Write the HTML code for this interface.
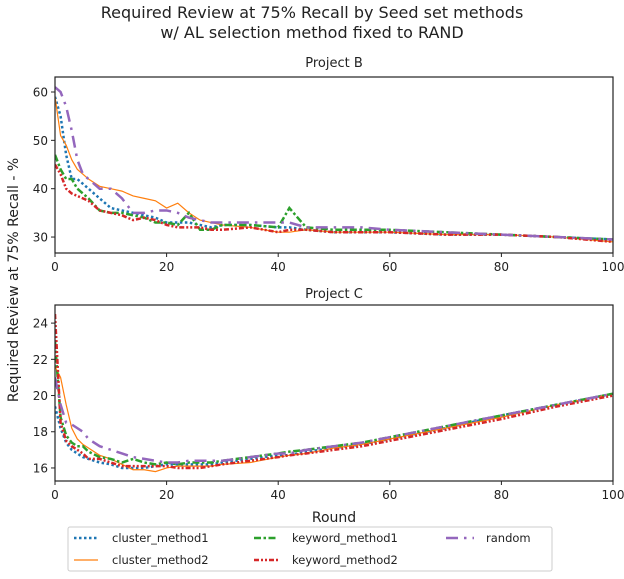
<!DOCTYPE html>
<html><head><meta charset="utf-8"><style>
body{margin:0;background:#fff;}
svg text{font-family:"DejaVu Sans","Liberation Sans",sans-serif;fill:#222;}
</style></head><body>
<svg width="624" height="574" viewBox="0 0 624 574">
<text x="312" y="18" text-anchor="middle" font-size="16">Required Review at 75% Recall by Seed set methods</text>
<text x="312" y="38" text-anchor="middle" font-size="16">w/ AL selection method fixed to RAND</text>
<text x="334" y="67" text-anchor="middle" font-size="13">Project B</text>
<text x="334" y="298" text-anchor="middle" font-size="13">Project C</text>
<text x="334" y="522" text-anchor="middle" font-size="14">Round</text>
<text transform="translate(18,280) rotate(-90)" text-anchor="middle" font-size="14">Required Review at 75% Recall - %</text>
<g id="plots"></g>
<g>
<rect x="68" y="527" width="484" height="44" fill="#fff" stroke="#ccc" rx="2"/>
<line x1="74" y1="538" x2="98" y2="538" stroke="#1f77b4" stroke-width="2.5" stroke-dasharray="2.5,2.5"/>
<text x="112" y="542" font-size="11.5">cluster_method1</text>
<line x1="74" y1="560" x2="98" y2="560" stroke="#ff7f0e" stroke-width="1.2"/>
<text x="112" y="564" font-size="11.5">cluster_method2</text>
<line x1="254" y1="538" x2="278" y2="538" stroke="#2ca02c" stroke-width="2.5" stroke-dasharray="7,2.5,2.5,2.5"/>
<text x="292" y="542" font-size="11.5">keyword_method1</text>
<line x1="254" y1="560" x2="278" y2="560" stroke="#d62728" stroke-width="2.5" stroke-dasharray="5,2,2,2,2,2"/>
<text x="292" y="564" font-size="11.5">keyword_method2</text>
<line x1="446" y1="538" x2="474" y2="538" stroke="#9467bd" stroke-width="2.5" stroke-dasharray="12,6,2.5,6"/>
<text x="486" y="542" font-size="11.5">random</text>
</g>
</svg>
<script>
const rounds=[0,1,2,3,4,5,6,8,10,12,14,16,18,20,22,24,26,28,30,35,40,42,45,50,55,60,70,80,90,100];
const bCluster1=[59,55,47,42,42,41,40,38,36,35.5,35,34.5,34,33,33,33,32.5,32,32.5,32.5,32,32,31.5,31,31,31,30.5,30.5,30,29.5];
const bCluster2=[59,51,49,46,44,43,42,40.5,40,39.5,38.5,38,37.5,36,37,35,33.5,33,32.5,32,31,31,31.5,31,31,31,30.5,30.5,30,29];
const bKeyword1=[47,44,42,42,40,39,38,35.5,35,35,34.5,34,33,33,32.5,35,31.5,31.5,32.5,32.5,32,36,32,31.5,31.5,31.5,31,30.5,30,29.5];
const bKeyword2=[45,43,40,39,38.5,38,37.5,35.5,35,34.5,33.5,34,33.5,32.5,32,32,32,31.5,31.5,32,31,31.5,31.5,31,31,31,30.5,30.5,30,29];
const bRandom=[61,60,57,52,46,43,42,40,40,38,35,35,35.5,35.5,35,34,33.5,33,33,33,33,33,32,32,32,31.5,31,30.5,30,29.5];
const cCluster1=[19.4,18.2,17.4,17,16.8,16.6,16.5,16.3,16.2,16,16,16,16.1,16.2,16.2,16.2,16.2,16.2,16.3,16.5,16.7,16.7,16.9,17.1,17.3,17.6,18.2,18.9,19.5,20.1];
const cCluster2=[21.6,21,19.5,18.2,17.6,17.3,17.1,16.7,16.5,16.2,15.9,15.9,15.8,16,16.1,16.1,16.1,16.1,16.2,16.3,16.6,16.7,16.8,17.1,17.3,17.6,18.2,18.8,19.5,20.1];
const cKeyword1=[23,18.8,17.8,17.4,17.2,17.2,16.9,16.6,16.5,16.3,16.5,16.3,16.2,16.3,16.2,16.3,16.3,16.3,16.4,16.6,16.8,16.9,17,17.2,17.4,17.7,18.3,18.9,19.5,20.1];
const cKeyword2=[24.5,18.5,17.5,17.2,17,16.8,16.5,16.5,16.3,16.1,16.1,16.1,16.1,16.1,16,16,16,16.1,16.2,16.4,16.6,16.7,16.8,17,17.2,17.5,18.1,18.7,19.4,20];
const cRandom=[21,19.5,18.5,18.4,18.2,18,17.6,17.2,17,16.8,16.6,16.5,16.4,16.3,16.3,16.4,16.4,16.4,16.4,16.6,16.8,16.8,17,17.2,17.4,17.7,18.3,18.9,19.5,20.1];
const bTicksY=[30,40,50,60];
const cTicksY=[16,18,20,22,24];
const xTicks=[0,20,40,60,80,100];
const styles={cluster1:["#1f77b4","2.5","2.5,2.5"],cluster2:["#ff7f0e","1.2",""],keyword1:["#2ca02c","2.5","7,2.5,2.5,2.5"],keyword2:["#d62728","2.5","5,2,2,2,2,2"],random:["#9467bd","2.5","12,6,2.5,6"]};
const NS="http://www.w3.org/2000/svg";
const root=document.getElementById('plots');
function mk(tag,attrs,parent){const e=document.createElementNS(NS,tag);for(const k in attrs)e.setAttribute(k,attrs[k]);parent.appendChild(e);return e;}
function panel(name,top,bottom,ymin,ymax,yticks,series){
  const L=55,R=613;
  const sx=v=>L+(v-0)/100*(R-L);
  const sy=v=>bottom-(v-ymin)/(ymax-ymin)*(bottom-top);
  const g=mk('g',{},root);
  
  
  const clipId=name+'-clip';
  const cp=mk('clipPath',{id:clipId},g);mk('rect',{x:L,y:top,width:R-L,height:bottom-top},cp);
  const lines=mk('g',{'clip-path':'url(#'+clipId+')'},g);
  for(const [key,vals] of series){
    const st=styles[key];
    const p=mk('polyline',{points:rounds.map((r,i)=>sx(r)+','+sy(vals[i])).join(' '),fill:'none',stroke:st[0],'stroke-width':st[1],'stroke-dasharray':st[2]},lines);
    
    
  }
  const box=mk('rect',{x:L,y:top,width:R-L,height:bottom-top,fill:'none',stroke:'#222','stroke-width':1.2},g);
  
  
  for(const t of yticks){
    mk('line',{x1:L-4,x2:L,y1:sy(t),y2:sy(t),stroke:'#222'},g);
    const tx=mk('text',{x:L-7,y:sy(t)+4.5,'text-anchor':'end','font-size':12},g);tx.textContent=t;
    
    
  }
  for(const t of xTicks){
    mk('line',{x1:sx(t),x2:sx(t),y1:bottom,y2:bottom+4,stroke:'#222'},g);
    const tx=mk('text',{x:sx(t),y:bottom+18,'text-anchor':'middle','font-size':12},g);tx.textContent=t;
    
    
  }
}
panel('project-b',77,253,26.7,63.1,bTicksY,[['cluster1',bCluster1],['cluster2',bCluster2],['keyword1',bKeyword1],['keyword2',bKeyword2],['random',bRandom]]);
panel('project-c',305,481,15.28,25,cTicksY,[['cluster1',cCluster1],['cluster2',cCluster2],['keyword1',cKeyword1],['keyword2',cKeyword2],['random',cRandom]]);
</script>
</body></html>
